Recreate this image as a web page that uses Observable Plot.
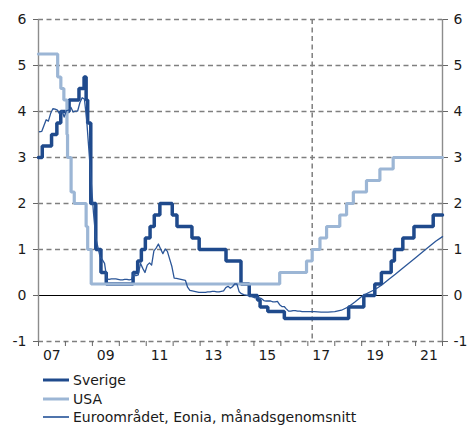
<!DOCTYPE html>
<html><head><meta charset="utf-8">
<script src="https://cdn.jsdelivr.net/npm/d3@7"></script>
<script src="https://cdn.jsdelivr.net/npm/@observablehq/plot@0.6"></script>
<style>
body{margin:0;background:#fff;font-family:"DejaVu Sans",Verdana,sans-serif;}
#chart{position:relative;width:469px;height:425px;overflow:hidden;}
.legend{position:absolute;left:43px;top:371px;font-size:14px;color:#1a1a1a;}
.legend div{height:18.5px;line-height:18.5px;display:flex;align-items:center;white-space:nowrap;}
.legend svg{margin-right:4px;}
</style></head><body><div id="chart"></div>
<script>
// ---- data ----
const seriesNames = ["Sverige", "USA", "Euroområdet, Eonia, månadsgenomsnitt"];
const seriesColors = ["#1f4a8c", "#9cb6d5", "#2b5698"];

// Sweden repo rate: change dates and levels (incl. forecast path)
const swedenDates = ["2007-01-01","2007-02-21","2007-06-27","2007-09-07","2007-10-30","2008-02-20","2008-07-03","2008-09-10","2008-10-08","2008-10-29","2008-12-10","2009-02-16","2009-04-27","2009-07-08","2010-07-07","2010-09-07","2010-10-27","2010-12-20","2011-02-22","2011-04-20","2011-07-05","2011-12-20","2012-02-22","2012-09-12","2012-12-19","2013-12-18","2014-07-09","2014-10-29","2015-02-18","2015-03-25","2015-07-08","2016-02-17","2018-07-08","2019-01-30","2019-06-28","2019-09-25","2020-02-05","2020-03-20","2020-07-12","2020-12-10","2021-08-28","2022-01-01"];
const swedenValues = [3.00,3.25,3.50,3.75,4.00,4.25,4.50,4.75,4.25,3.75,2.00,1.00,0.50,0.25,0.50,0.75,1.00,1.25,1.50,1.75,2.00,1.75,1.50,1.25,1.00,0.75,0.25,0.00,-0.10,-0.25,-0.35,-0.50,-0.25,0.00,0.25,0.50,0.75,1.00,1.25,1.50,1.75,1.75];

// USA policy rate: change dates and levels (incl. forecast path)
const usaDates = ["2007-01-01","2007-09-18","2007-10-31","2007-12-11","2008-01-22","2008-01-30","2008-03-18","2008-04-30","2008-10-08","2008-10-29","2008-12-16","2015-12-16","2016-12-14","2017-03-01","2017-06-14","2017-09-12","2018-03-10","2018-06-10","2018-09-10","2019-03-07","2019-09-05","2020-03-03","2022-01-01"];
const usaValues = [5.25,4.75,4.50,4.25,3.50,3.00,2.25,2.00,1.50,1.00,0.25,0.50,0.75,1.00,1.25,1.50,1.75,2.00,2.25,2.50,2.75,3.00,3.00];

// Eonia monthly averages, Jan 2007 .. Feb 2017
const eoniaStartYear = 2007;
const eoniaMonthly = [
  3.56,3.57,3.69,3.82,3.79,3.96,4.06,4.05,4.03,3.94,4.02,3.88,
  4.02,4.03,4.09,3.99,4.01,4.01,4.19,4.30,4.27,3.82,3.15,2.49,
  1.81,1.26,1.06,0.84,0.78,0.70,0.36,0.35,0.36,0.36,0.36,0.35,
  0.34,0.34,0.35,0.35,0.34,0.35,0.48,0.43,0.45,0.70,0.59,0.50,
  0.66,0.71,0.66,0.97,1.03,1.12,1.01,0.91,1.01,0.96,0.79,0.63,
  0.38,0.37,0.36,0.35,0.34,0.33,0.18,0.11,0.10,0.09,0.08,0.07,
  0.07,0.07,0.07,0.08,0.08,0.09,0.09,0.08,0.08,0.09,0.10,0.17,
  0.20,0.16,0.19,0.25,0.25,0.08,0.04,0.02,0.01,0.00,-0.01,-0.03,
  -0.05,-0.04,-0.05,-0.07,-0.11,-0.12,-0.12,-0.12,-0.14,-0.14,-0.13,-0.20,
  -0.24,-0.24,-0.29,-0.34,-0.34,-0.33,-0.33,-0.34,-0.34,-0.35,-0.35,-0.35,
  -0.35,-0.35
];
// Eonia expected path
const eoniaPathDates = ["2017-04-01","2017-07-01","2017-10-01","2018-01-01","2018-04-01","2018-07-01","2018-10-01","2019-01-01","2019-04-01","2019-07-01","2019-10-01","2020-01-01","2020-04-01","2020-07-01","2020-10-01","2021-01-01","2021-04-01","2021-07-01","2021-10-01","2022-01-01"];
const eoniaPathValues = [-0.35,-0.36,-0.36,-0.35,-0.32,-0.25,-0.14,-0.02,0.06,0.13,0.23,0.35,0.46,0.58,0.70,0.82,0.94,1.06,1.18,1.28];

const yTicks = [-1,0,1,2,3,4,5,6];
const gridValues = [-1,1,2,3,4,5,6];
const xLabelYears = [2007,2009,2011,2013,2015,2017,2019,2021];
const xLabels = ["07","09","11","13","15","17","19","21"];
const forecastLine = "2017-03-01";
const xStart = "2007-01-01", xEnd = "2022-01-01";

// ---- build tables ----
const sweden = swedenDates.map((d,i)=>({date:new Date(d), v:swedenValues[i]}));
const usa = usaDates.map((d,i)=>({date:new Date(d), v:usaValues[i]}));
const eonia = eoniaMonthly.map((v,i)=>({date:new Date(Date.UTC(eoniaStartYear, i, 15)), v}))
  .concat(eoniaPathDates.map((d,i)=>({date:new Date(d), v:eoniaPathValues[i]})));
const yearTicks = d3.range(2007, 2023).map(y=>new Date(Date.UTC(y,0,1)));
const labelDates = xLabelYears.map(y=>new Date(Date.UTC(y,6,1)));
const labelMap = new Map(xLabelYears.map((y,i)=>[y, xLabels[i]]));

const grid = {stroke:"#7f7f7f", strokeWidth:1.5, strokeDasharray:"5,3.5"};
const plot = Plot.plot({
  width:469, height:368,
  marginLeft:38, marginRight:27, marginTop:19, marginBottom:27,
  style:{fontFamily:"DejaVu Sans, Verdana, sans-serif", fontSize:"14px", color:"#1a1a1a", background:"white", overflow:"visible"},
  x:{type:"utc", domain:[new Date(xStart), new Date(xEnd)]},
  y:{domain:[-1,6]},
  marks:[
    Plot.ruleY(gridValues, grid),
    Plot.ruleX([new Date(forecastLine)], grid),
    Plot.ruleY([0], {stroke:"#000", strokeWidth:1.2}),
    Plot.ruleX([new Date(xStart), new Date(xEnd)], {stroke:"#8c8c8c", strokeWidth:1.4}),
    Plot.axisY({anchor:"left", ticks:yTicks, tickSize:5, tickPadding:7, tickFormat:d=>String(d), stroke:"#666", label:null}),
    Plot.axisY({anchor:"right", ticks:yTicks, tickSize:5, tickPadding:6, tickFormat:d=>String(d), stroke:"#666", label:null}),
    Plot.axisX({ticks:yearTicks, tickSize:5, tickFormat:()=>"", stroke:"#666", label:null}),
    Plot.axisX({ticks:labelDates, tickSize:0, tickPadding:9, tickFormat:d=>labelMap.get(d.getUTCFullYear()), label:null}),
    Plot.line(sweden, {x:"date", y:"v", curve:"step-after", stroke:seriesColors[0], strokeWidth:3.5, strokeLinejoin:"miter"}),
    Plot.line(usa, {x:"date", y:"v", curve:"step-after", stroke:seriesColors[1], strokeWidth:3.2, strokeLinejoin:"miter"}),
    Plot.line(eonia, {x:"date", y:"v", stroke:seriesColors[2], strokeWidth:1.3})
  ]
});
const chart = document.getElementById("chart");
chart.appendChild(plot);

// legend
const legend = document.createElement("div");
legend.className = "legend";
const swW = [3, 3, 2];
const swC = [seriesColors[0], seriesColors[1], "#4f74ac"];
seriesNames.forEach((name,i)=>{
  const row = document.createElement("div");
  row.innerHTML = `<svg width="26" height="6"><line x1="0" x2="26" y1="3" y2="3" stroke="${swC[i]}" stroke-width="${swW[i]}"/></svg><span>${name}</span>`;
  legend.appendChild(row);
});
chart.appendChild(legend);
</script></body></html>
